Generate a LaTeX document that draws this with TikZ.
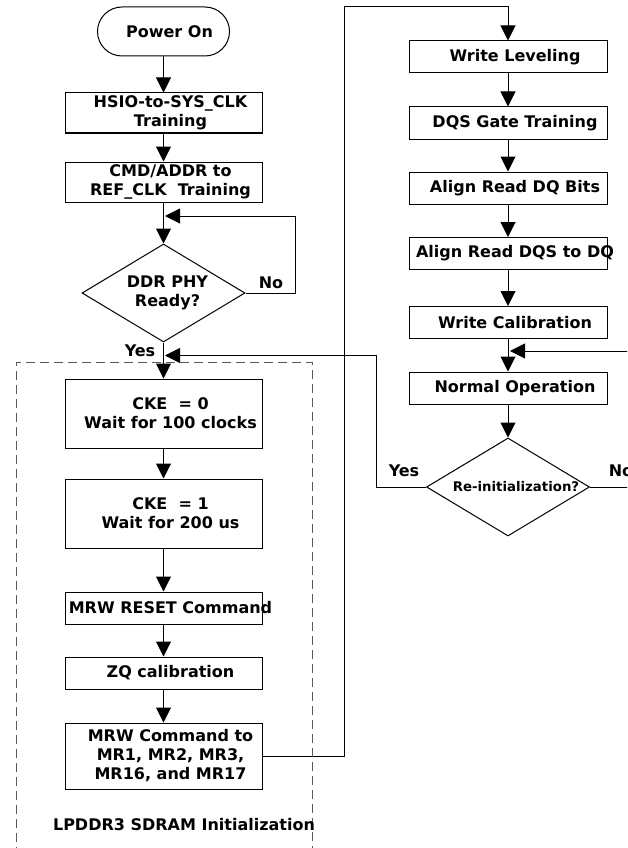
\documentclass[tikz,border=0pt]{standalone}
\usepackage{fontspec}
\setmainfont{DejaVu Sans}
\usetikzlibrary{arrows.meta,shapes.geometric,shapes.misc}

\tikzset{
    seta/.style={-{Triangle[length=15pt,width=15pt]}},
    txt/.style={font=\bfseries\fontsize{16}{19}\selectfont, align=center},
    caixa/.style={draw, minimum width=197pt, minimum height=32pt, inner sep=0pt,
        label={[txt,xshift=7pt]center:#1}},
    decisao/.style={draw, diamond, aspect=1.66, minimum width=163pt,
        minimum height=98pt, inner sep=0pt},
    rotulo/.style={font=\bfseries\fontsize{16}{19}\selectfont}
}

\begin{document}
\begin{tikzpicture}[x=1pt, y=-1pt, line width=1pt]
        \clip (0,0) rectangle (627,848);

        % Coluna esquerda
        \node[draw, rounded rectangle, minimum width=132pt, minimum height=49pt,
            inner sep=0pt, label={[txt,xshift=6pt]center:Power On}] (power) at (163.5,31.5) {};
        \node[caixa={HSIO-to-SYS\_CLK\\Training}, minimum height=40pt] (hsio) at (163.5,113) {};
        \node[caixa={CMD/ADDR to\\REF\_CLK~ Training}, minimum height=40pt] (cmd) at (163.5,182) {};
        \node[decisao, label={[txt,xshift=4pt]center:DDR PHY\\Ready?}] (ready) at (163.5,293) {};
        \node[caixa={CKE~ = 0\\Wait for 100 clocks}, minimum height=69pt] (cke0) at (163.5,413.5) {};
        \node[caixa={CKE~ = 1\\Wait for 200 us}, minimum height=69pt] (cke1) at (163.5,513.5) {};
        \node[caixa={MRW RESET Command}] (mrwrst) at (163.5,608) {};
        \node[caixa={ZQ calibration}] (zq) at (163.5,673) {};
        \node[caixa={MRW Command to\\MR1, MR2, MR3,\\MR16, and MR17}, minimum height=66pt] (mrwcmd) at (163.5,756) {};

        % Coluna direita
        \node[caixa={Write Leveling}, minimum width=198pt] (wlev) at (508,57) {};
        \node[caixa={DQS Gate Training}, minimum width=198pt] (dqs) at (508,123) {};
        \node[caixa={Align Read DQ Bits}, minimum width=198pt] (adq) at (508,188) {};
        \node[caixa={Align Read DQS to DQ}, minimum width=198pt] (adqs) at (508,253.5) {};
        \node[caixa={Write Calibration}, minimum width=198pt] (wcal) at (508,322.5) {};
        \node[caixa={Normal Operation}, minimum width=198pt] (normal) at (508,388) {};
        \node[decisao, label={[font=\bfseries\fontsize{13.3}{15}\selectfont,xshift=8pt]center:Re-initialization?}] (reinit) at (508,487) {};

        % Pontos de junção
        \coordinate (j1) at (165,216);
        \coordinate (j2) at (165,355.5);
        \coordinate (j3) at (510,351);

        % Ligações
        \draw[seta] (power) -- (hsio);
        \draw[seta] (hsio) -- (cmd);
        \draw[seta] (cmd) -- (ready);
        \draw[seta] (ready.east) -- ++(50,0) |- (j1);
        \draw[seta] (ready) -- (cke0);
        \draw[seta] (cke0) -- (cke1);
        \draw[seta] (cke1) -- (mrwrst);
        \draw[seta] (mrwrst) -- (zq);
        \draw[seta] (zq) -- (mrwcmd);
        \draw[seta] (mrwcmd.east) -| (344,7) -| (wlev.north);
        \draw[seta] (wlev) -- (dqs);
        \draw[seta] (dqs) -- (adq);
        \draw[seta] (adq) -- (adqs);
        \draw[seta] (adqs) -- (wcal);
        \draw[seta] (wcal) -- (normal);
        \draw[seta] (normal) -- (reinit);
        \draw[seta] (reinit.west) -- ++(-50,0) |- (j2);
        \draw[seta] (reinit.east) -- ++(50,0) |- (j3);

        % Rótulos
        \node[rotulo] (no1) at (271,283) {No};
        \node[rotulo] (yes1) at (140,351) {Yes};
        \node[rotulo] (yes2) at (404,471) {Yes};
        \node[rotulo, anchor=west] (no2) at (605,471) {No};

        % Bloco tracejado
        \draw[dashed, dash pattern=on 9pt off 5pt, black!65] (16,870) |- (312,362) -- (312,870);
        \node[rotulo] (lpddr) at (184,825) {LPDDR3 SDRAM Initialization};
\end{tikzpicture}
\end{document}
